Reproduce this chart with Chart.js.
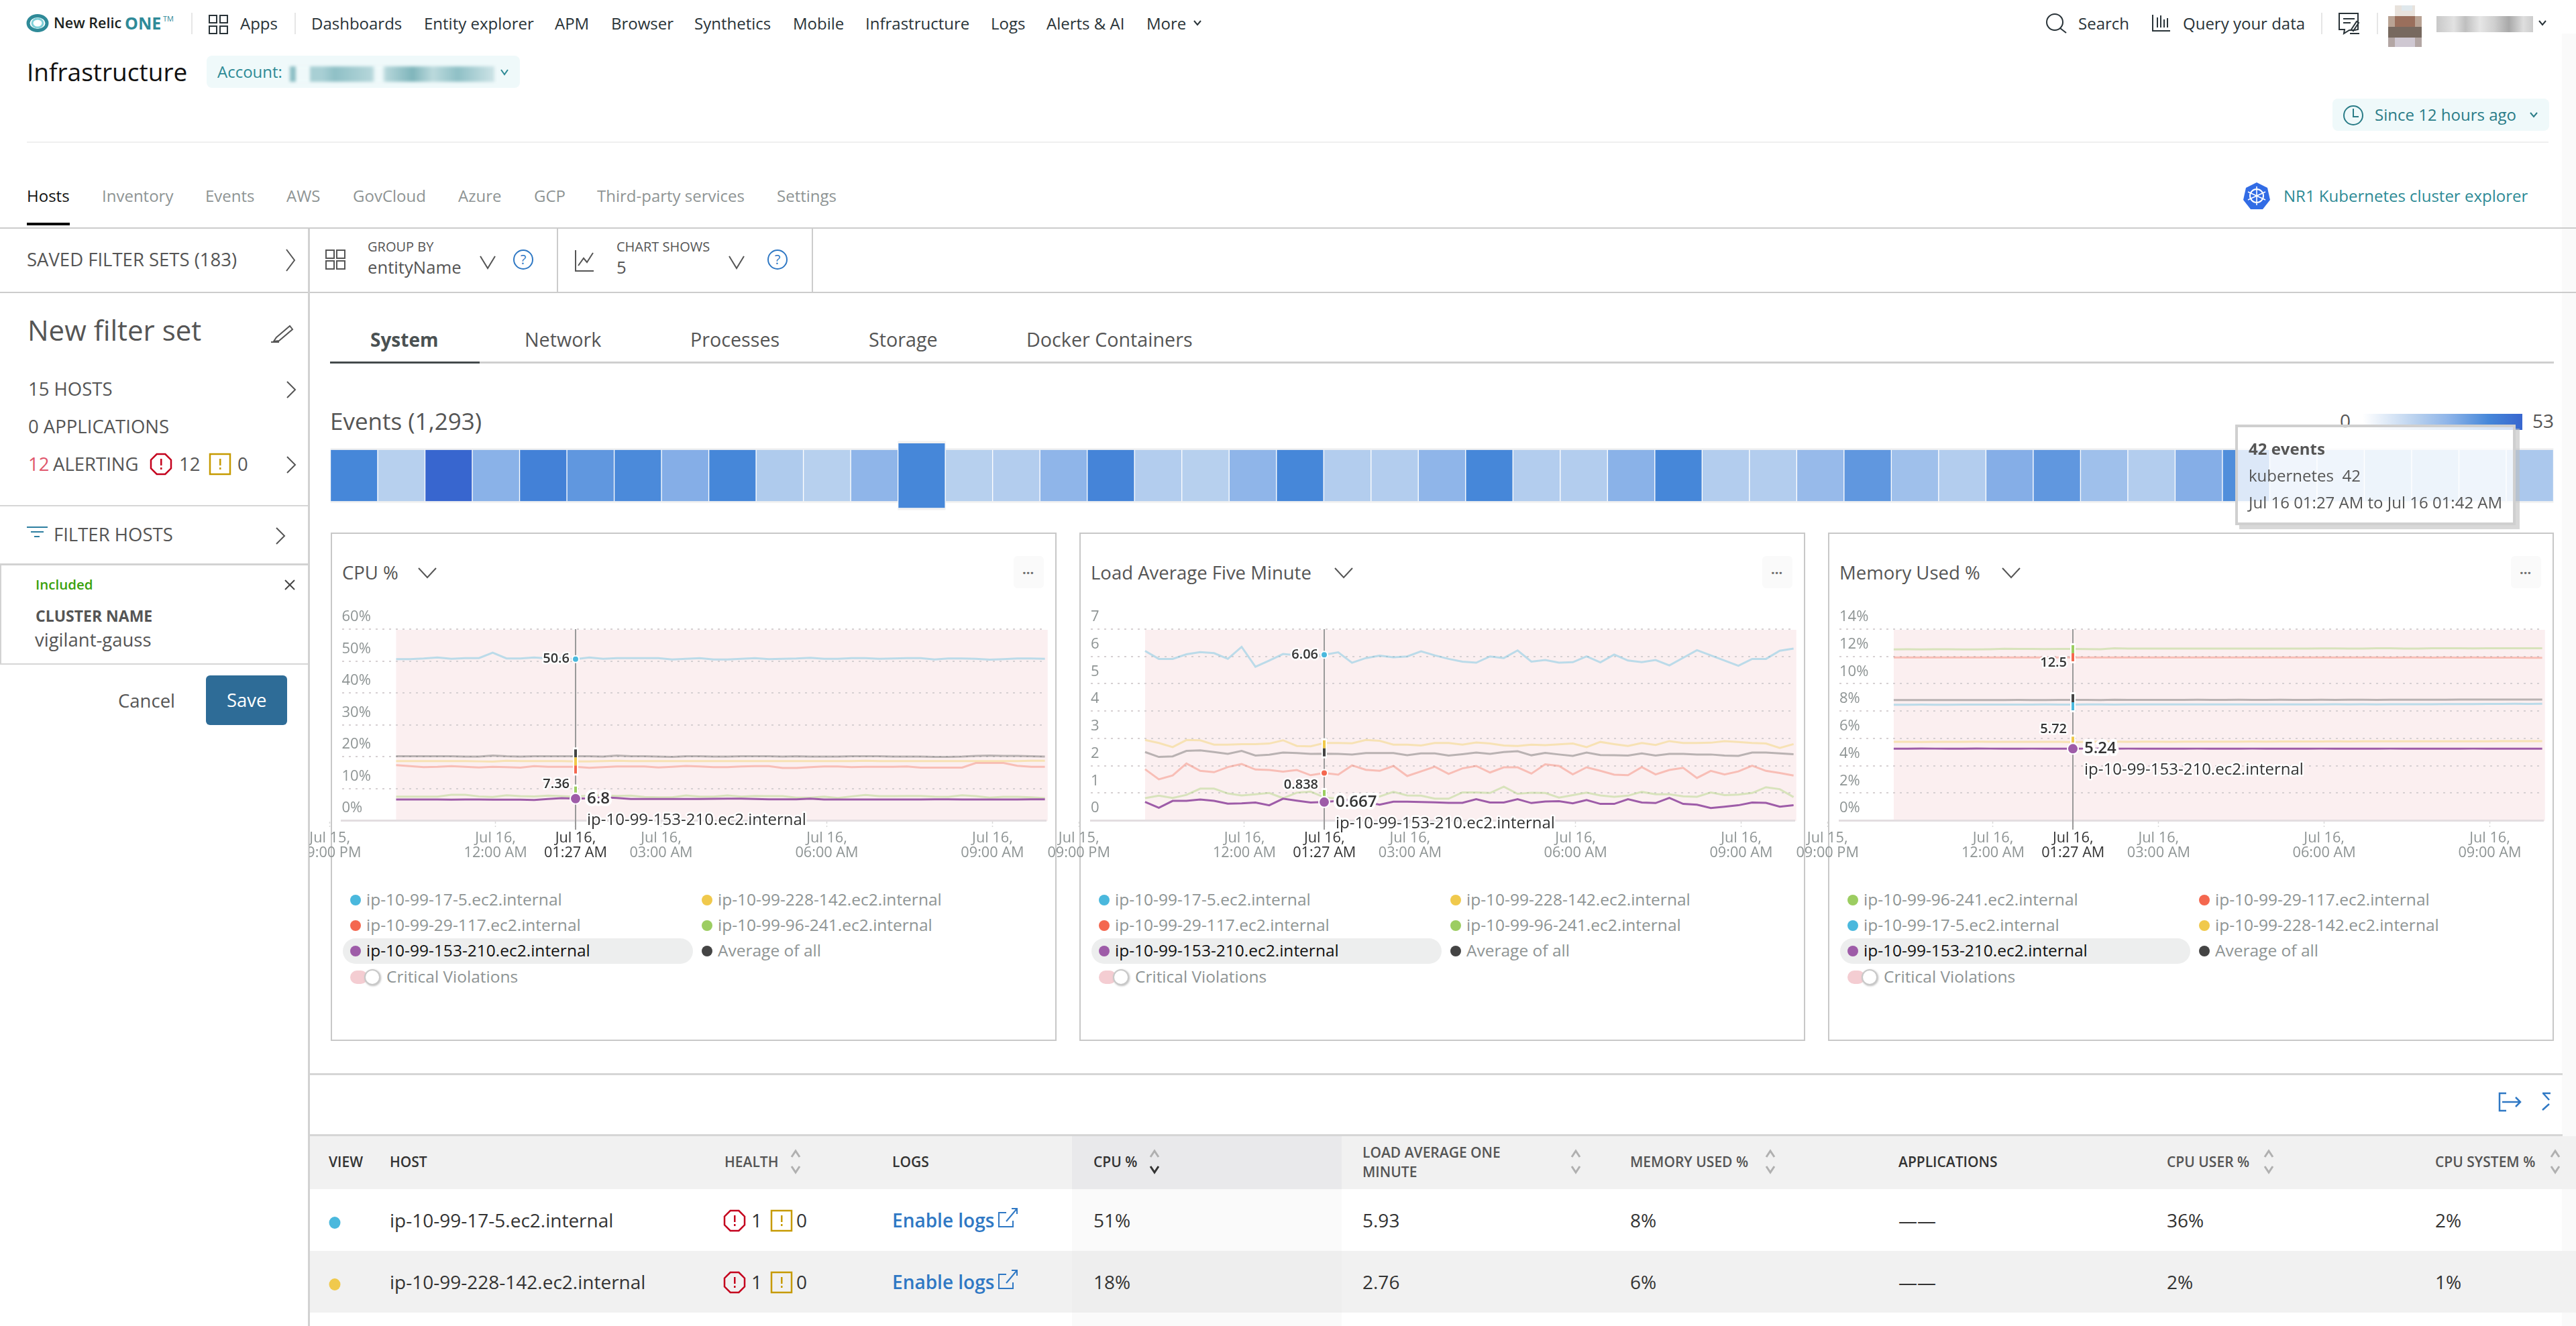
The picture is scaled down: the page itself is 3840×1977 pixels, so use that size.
<!DOCTYPE html>
<html><head><meta charset="utf-8"><title>Infrastructure</title>
<script src="https://cdn.jsdelivr.net/npm/chart.js@4"></script>
<style>
html,body{margin:0;padding:0;background:#fff;width:3840px;height:1977px;overflow:hidden;font-family:"Open Sans",sans-serif}
#page{position:relative;width:3840px;height:1977px;overflow:hidden}
.t{position:absolute;white-space:nowrap;line-height:1;transform:translateY(-50%)}
.r{position:absolute}
canvas{position:absolute}
</style></head><body><div id="page"></div>
<script>
/* ---------- data ---------- */
const sampleMinutes=[72,87,102,117,132,147,162,177,192,207,222,237,252,267,282,297,312,327,342,357,372,387,402,417,432,447,462,477,492,507,522,537,552,567,582,597,612,627,642,657,672,687,702,717,732,747,762,777];
const tickMinutes=[0,180,267,360,540,720];
const tickLabels=[["Jul 15,","09:00 PM"],["Jul 16,","12:00 AM"],["Jul 16,","01:27 AM"],["Jul 16,","03:00 AM"],["Jul 16,","06:00 AM"],["Jul 16,","09:00 AM"]];
const hoverMinute=267;
const violationWindow=[72,780];
const hostBlue="ip-10-99-17-5.ec2.internal",hostYellow="ip-10-99-228-142.ec2.internal",hostRed="ip-10-99-29-117.ec2.internal",hostGreen="ip-10-99-96-241.ec2.internal",hostPurple="ip-10-99-153-210.ec2.internal",hostAvg="Average of all";

const cpuBlue=[50.6,50.6,50.8,51.1,50.7,50.9,50.9,52.6,50.8,50.8,51.1,50.8,50.9,50.6,51.1,50.7,50.9,50.9,50.9,50.9,50.5,50.7,50.9,50.5,50.5,50.7,50.9,50.6,50.7,50.8,51.0,50.7,50.7,50.9,50.9,50.7,50.8,50.9,50.9,50.5,50.8,50.8,50.7,50.4,50.6,50.8,50.8,50.7];
const cpuAvg=[20.1,20.1,20.1,20.1,20.1,20.0,20.0,20.3,20.1,20.0,20.1,20.1,20.1,20.1,20.1,20.0,20.3,20.1,20.1,20.0,19.9,20.1,20.1,20.0,20.0,20.1,20.1,20.1,20.0,20.1,20.0,20.0,20.0,20.1,20.1,20.1,20.0,20.0,20.0,19.9,19.9,20.0,20.2,20.3,20.2,20.2,20.1,20.0];
const cpuYellow=[18.6,18.6,18.6,18.6,18.6,18.6,18.5,18.4,18.7,18.6,18.6,18.6,18.6,18.5,18.5,18.6,18.7,18.6,18.6,18.6,18.6,18.6,18.6,18.6,18.6,18.6,18.6,18.6,18.6,18.6,18.6,18.6,18.6,18.6,18.7,18.6,18.6,18.6,18.6,18.6,18.6,18.6,18.6,18.6,18.6,18.6,18.7,18.7];
const cpuRed=[17.3,17.0,16.7,16.8,17.0,16.8,16.6,16.8,16.7,16.55,17.0,16.8,16.8,16.8,16.5,16.7,16.9,16.9,16.9,16.6,16.8,17.05,16.9,16.7,16.7,16.9,17.0,17.0,16.4,16.4,16.7,16.9,16.9,16.7,16.8,16.8,16.8,16.9,16.55,16.55,16.55,16.55,18.0,18.0,18.0,17.1,16.8,16.8];
const cpuGreen=[7.44,7.44,7.44,7.44,8.0,8.0,7.5,7.3,7.86,7.58,7.5,7.72,7.58,7.36,7.79,7.86,7.65,7.72,7.3,7.23,7.23,7.79,7.44,7.44,7.79,7.44,7.65,7.58,7.58,7.09,7.09,7.44,7.02,7.5,7.93,7.58,7.58,7.65,7.65,7.44,7.37,7.86,7.58,7.09,7.37,7.37,7.23,6.95];
const cpuPurple=[6.53,6.53,6.53,6.53,6.46,6.53,6.53,6.46,6.46,6.46,6.39,6.67,6.95,6.8,6.9,7.2,7.0,6.67,6.67,6.67,6.67,6.67,6.67,6.74,6.8,6.8,6.67,6.6,6.6,6.6,6.8,6.53,6.53,6.53,6.53,6.53,6.53,6.53,6.53,6.6,6.6,6.53,6.53,6.53,6.53,6.53,6.6,6.6];

const loadBlue=[6.20,5.91,5.91,6.08,6.16,6.12,5.91,6.35,5.62,5.85,6.09,6.04,6.05,6.06,6.15,5.77,5.94,6.03,5.97,6.0,6.19,6.04,5.91,5.81,5.77,6.0,5.94,6.22,5.81,5.87,5.77,5.79,6.0,5.78,6.07,5.85,5.79,5.87,5.67,5.95,6.23,6.04,5.85,5.66,5.91,5.91,6.21,6.29];
const loadYellow=[2.94,2.83,2.68,2.94,2.93,2.77,2.77,2.79,2.79,2.81,2.93,2.72,2.71,2.83,2.83,2.82,2.94,2.91,2.77,2.77,2.74,2.83,2.83,2.77,2.85,2.81,2.74,2.72,2.77,2.75,2.78,2.81,2.68,2.87,2.79,2.72,2.83,2.76,2.90,2.83,2.83,2.84,2.90,2.87,2.83,2.81,2.65,2.79];
const loadAvg=[2.50,2.32,2.34,2.54,2.56,2.50,2.43,2.54,2.37,2.40,2.48,2.46,2.43,2.44,2.43,2.41,2.46,2.46,2.46,2.38,2.45,2.45,2.37,2.42,2.48,2.43,2.50,2.53,2.38,2.47,2.41,2.36,2.48,2.39,2.38,2.37,2.45,2.37,2.43,2.43,2.41,2.41,2.37,2.36,2.48,2.48,2.45,2.42];
const loadRed=[1.87,1.50,1.64,2.08,1.81,1.76,1.95,2.06,1.86,1.84,1.78,1.84,1.65,1.73,1.67,2.01,1.85,1.81,1.99,1.62,1.79,1.96,1.70,1.90,1.99,1.75,1.94,1.94,1.71,2.05,1.99,1.68,1.94,1.81,1.67,1.65,1.95,1.68,1.84,1.92,1.55,1.81,1.68,1.79,2.0,1.81,1.73,1.64];
const loadGreen=[0.81,0.90,0.82,0.93,1.16,1.16,0.98,0.91,0.95,1.0,0.81,1.01,1.05,0.838,0.79,0.75,0.85,0.87,1.04,0.91,0.90,0.79,0.79,1.02,1.02,1.0,1.23,0.97,1.01,1.0,0.83,0.92,1.01,0.91,0.86,0.90,1.04,0.95,0.95,0.88,0.86,1.02,0.92,0.94,1.0,1.21,1.14,0.85];
const loadPurple=[0.67,0.46,0.71,0.71,0.76,0.71,0.61,0.62,0.65,0.55,0.79,0.72,0.65,0.667,0.71,0.75,0.67,0.57,0.68,0.68,0.67,0.66,0.64,0.64,0.77,0.65,0.65,0.77,0.63,0.69,0.70,0.62,0.74,0.60,0.60,0.77,0.65,0.63,0.82,0.60,0.57,0.45,0.50,0.55,0.65,0.64,0.50,0.55];

const memGreen=[12.52,12.53,12.52,12.53,12.53,12.52,12.52,12.53,12.56,12.55,12.55,12.54,12.55,12.55,12.54,12.53,12.6,12.58,12.57,12.57,12.57,12.57,12.58,12.57,12.57,12.57,12.57,12.57,12.57,12.57,12.58,12.59,12.59,12.58,12.58,12.6,12.6,12.58,12.58,12.6,12.6,12.6,12.59,12.6,12.6,12.6,12.6,12.6];
const memRed=[11.93,11.92,11.93,11.93,11.92,11.93,11.92,11.93,11.93,11.92,11.92,11.93,11.92,11.92,11.93,11.93,11.92,11.93,11.93,11.92,11.93,11.93,11.92,11.93,11.93,11.92,11.92,11.93,11.92,11.92,11.93,11.92,11.92,11.93,11.92,11.92,11.91,11.92,11.92,11.91,11.92,11.91,11.92,11.91,11.91,11.91,11.9,11.9];
const memAvg=[8.80,8.80,8.81,8.80,8.81,8.81,8.80,8.81,8.81,8.82,8.81,8.81,8.82,8.82,8.82,8.81,8.83,8.82,8.82,8.82,8.82,8.82,8.83,8.82,8.82,8.83,8.82,8.82,8.83,8.82,8.82,8.83,8.82,8.83,8.83,8.82,8.83,8.83,8.83,8.83,8.83,8.84,8.84,8.84,8.84,8.84,8.84,8.84];
const memBlue=[8.46,8.46,8.47,8.46,8.46,8.47,8.47,8.47,8.47,8.47,8.47,8.48,8.47,8.47,8.48,8.48,8.47,8.48,8.48,8.48,8.48,8.48,8.48,8.48,8.48,8.48,8.49,8.48,8.49,8.48,8.49,8.49,8.5,8.49,8.5,8.49,8.5,8.5,8.5,8.5,8.51,8.51,8.51,8.52,8.52,8.53,8.52,8.53];
const memYellow=[5.75,5.75,5.74,5.75,5.75,5.75,5.76,5.75,5.75,5.75,5.75,5.75,5.75,5.72,5.75,5.76,5.76,5.75,5.76,5.76,5.75,5.76,5.76,5.76,5.76,5.76,5.77,5.76,5.77,5.77,5.77,5.77,5.78,5.77,5.78,5.78,5.78,5.78,5.79,5.78,5.79,5.79,5.79,5.79,5.8,5.8,5.8,5.8];
const memPurple=[5.25,5.25,5.26,5.25,5.25,5.25,5.26,5.25,5.25,5.24,5.25,5.25,5.24,5.24,5.25,5.25,5.24,5.25,5.25,5.25,5.25,5.24,5.25,5.25,5.25,5.24,5.25,5.25,5.25,5.25,5.24,5.25,5.25,5.25,5.25,5.24,5.25,5.25,5.25,5.25,5.25,5.24,5.25,5.25,5.25,5.25,5.25,5.25];

const eventCounts=[42,18,53,29,44,37,41,30,42,20,18,28,42,18,19,28,43,19,18,28,42,19,19,28,42,19,19,29,42,19,19,26,37,24,19,30,37,24,19,30,40,19,20,22,22,20,21];
const eventCells=["22:27","22:42","22:57","23:12","23:27","23:42","23:57","00:12","00:27","00:42","00:57","01:12","01:27","01:42","01:57","02:12","02:27","02:42","02:57","03:12","03:27","03:42","03:57","04:12","04:27","04:42","04:57","05:12","05:27","05:42","05:57","06:12","06:27","06:42","06:57","07:12","07:27","07:42","07:57","08:12","08:27","08:42","08:57","09:12","09:27","09:42","09:57"];
const selectedEventCell=12;

const navItems=[["Dashboards",464],["Entity explorer",632],["APM",827],["Browser",911],["Synthetics",1035],["Mobile",1182],["Infrastructure",1290],["Logs",1477],["Alerts & AI",1560],["More",1709]];
const tabItems=[["Hosts",40],["Inventory",152],["Events",306],["AWS",427],["GovCloud",526],["Azure",683],["GCP",796],["Third-party services",890],["Settings",1158]];
const subTabs=[["System",552],["Network",782],["Processes",1029],["Storage",1295],["Docker Containers",1530]];

/* ---------- colours ---------- */
const C={blue:"#4ab8dd",yellow:"#f0c94c",red:"#f4674f",green:"#9ccd61",purple:"#9e5ca8",avg:"#444444"};
const alpha=(hex,a)=>hex+Math.round(a*255).toString(16).padStart(2,"0");
const FONT='"Open Sans"';

/* ---------- DOM helpers ---------- */
const page=document.getElementById("page");
function R(x,y,w,h,bg,extra){const d=document.createElement("div");d.className="r";d.style.cssText=`left:${x}px;top:${y}px;width:${w}px;height:${h}px;background:${bg};${extra||""}`;page.appendChild(d);return d;}
function T(x,y,s,size,color,weight,extra){const d=document.createElement("div");d.className="t";d.textContent=s;d.style.cssText=`left:${x}px;top:${y-1.5}px;font-size:${size}px;color:${color};font-weight:${weight||400};${extra||""}`;page.appendChild(d);return d;}
let svgParts=[];
const chev=(x,y,w,h,c,sw)=>`<polyline points="${x},${y} ${x+w/2},${y+h} ${x+w},${y}" fill="none" stroke="${c}" stroke-width="${sw||2}"/>`;
const chevR=(x,y,w,h,c)=>`<polyline points="${x},${y} ${x+w},${y+h/2} ${x},${y+h}" fill="none" stroke="${c}" stroke-width="2"/>`;
const gridIcon=(x,y,s,g,c)=>`<g fill="none" stroke="${c}" stroke-width="2"><rect x="${x}" y="${y}" width="${s}" height="${s}"/><rect x="${x+s+g}" y="${y}" width="${s}" height="${s}"/><rect x="${x}" y="${y+s+g}" width="${s}" height="${s}"/><rect x="${x+s+g}" y="${y+s+g}" width="${s}" height="${s}"/></g>`;
const help=(cx,cy)=>`<circle cx="${cx}" cy="${cy}" r="14" fill="none" stroke="#2f78c4" stroke-width="2"/><text x="${cx}" y="${cy+7}" font-size="20" text-anchor="middle" fill="#2f78c4" font-family="Open Sans">?</text>`;
const octagon=(x,y,s)=>{const a=s*0.29,b=s-a;return `<polygon points="${x+a},${y} ${x+b},${y} ${x+s},${y+a} ${x+s},${y+b} ${x+b},${y+s} ${x+a},${y+s} ${x},${y+b} ${x},${y+a}" fill="none" stroke="#c4001d" stroke-width="2.5"/><rect x="${x+s/2-1}" y="${y+7}" width="2.5" height="10" fill="#c4001d"/><rect x="${x+s/2-1}" y="${y+20}" width="2.5" height="3" fill="#c4001d"/>`;};
const warnBox=(x,y,s)=>`<rect x="${x}" y="${y}" width="${s}" height="${s}" fill="none" stroke="#c69a00" stroke-width="2.5"/><rect x="${x+s/2-1}" y="${y+7}" width="2.5" height="10" fill="#c69a00"/><rect x="${x+s/2-1}" y="${y+20}" width="2.5" height="3" fill="#c69a00"/>`;
const sortIcon=(cx,cy,activeDown)=>`<polyline points="${cx-6},${cy-8} ${cx},${cy-17} ${cx+6},${cy-8}" fill="none" stroke="#b0b0b0" stroke-width="3"/><polyline points="${cx-6},${cy+6} ${cx},${cy+15} ${cx+6},${cy+6}" fill="none" stroke="${activeDown?"#333":"#b0b0b0"}" stroke-width="3"/>`;

/* ---------- header ---------- */
svgParts.push(`<ellipse cx="56" cy="34.5" rx="14" ry="11" fill="#fff" stroke="#2f8a98" stroke-width="5"/><ellipse cx="56" cy="34.5" rx="8" ry="6.5" fill="#fff" stroke="#7fd0d8" stroke-width="3"/>`);
T(80,35,"New Relic",21.5,"#1b1f20",600);
T(186,35,"ONE",25,"#2f8a98",700);T(243,28,"TM",11,"#2f8a98",400);
R(285,19,2,32,"#e6e6e6");R(439,19,2,32,"#e6e6e6");
svgParts.push(gridIcon(312,23,11,5,"#293338"));
T(358,36,"Apps",24,"#293338");
navItems.forEach(n=>T(n[1],36,n[0],24,"#293338"));
svgParts.push(chev(1780,31,10,6,"#293338"));
svgParts.push(`<circle cx="3063" cy="33" r="12" fill="none" stroke="#293338" stroke-width="2"/><line x1="3071" y1="42" x2="3080" y2="49" stroke="#293338" stroke-width="2"/>`);
T(3098,36,"Search",24,"#293338");
svgParts.push(`<g stroke="#293338" stroke-width="2" fill="none"><polyline points="3209,22 3209,46 3235,46"/><line x1="3216" y1="26" x2="3216" y2="41"/><line x1="3221" y1="23" x2="3221" y2="41"/><line x1="3226" y1="29" x2="3226" y2="41"/><line x1="3231" y1="27" x2="3231" y2="41"/></g>`);
T(3254,36,"Query your data",24,"#293338");
R(3460,19,2,32,"#e6e6e6");R(3543,19,2,32,"#e6e6e6");
svgParts.push(`<g stroke="#293338" stroke-width="2" fill="none"><path d="M3487 20h28v24l-5 1-8 0-8 5 1-6h-8z"/><line x1="3493" y1="28" x2="3510" y2="28"/><line x1="3493" y1="34" x2="3504" y2="34"/><line x1="3503" y1="50" x2="3517" y2="50"/><path d="M3505 44l8-12 3 2-8 12z"/></g>`);
/* blurred avatar and user name, as in the redacted reference */
[["#e8e2dc",3570,8,30,16],["#dfe8ec",3580,8,16,8],["#b9a394",3560,24,50,16],["#9a6f5c",3570,24,30,16],["#77695f",3560,40,50,16],["#b3a6a4",3560,56,50,14],["#cfc8d2",3570,56,30,14]].forEach(a=>R(a[1],a[2],a[3],a[4],a[0]));
R(3632,24,144,24,"linear-gradient(90deg,#c8c8c8,#e2e2e2 18%,#bfbfbf 30%,#e6e6e6 45%,#cfcfcf 60%,#a9a9a9 75%,#dedede 90%,#cccccc)");
svgParts.push(chev(3785,31,10,6,"#293338"));
T(40,107,"Infrastructure",37,"#111");
R(308,83,467,48,"#eff9fa","border-radius:8px");
T(324,108,"Account:",24,"#2d8a95");
R(432,99,305,23,"linear-gradient(90deg,#8fc0c6 0 3%,#eff9fa 3% 10%,#a8cfd4 10% 16%,#8fc0c6 22%,#b5d6da 40%,#eff9fa 42% 45%,#b5d6da 47%,#7fb5bb 60%,#bcdadd 70%,#8fc0c6 82%,#cde3e6 100%)","filter:blur(2px)");
svgParts.push(chev(747,104,10,7,"#2d8a95"));
R(3477,147,323,48,"#eff9fa","border-radius:8px");
svgParts.push(`<circle cx="3508" cy="172" r="14" fill="none" stroke="#2a7c87" stroke-width="2"/><polyline points="3508,162 3508,174 3516,174" fill="none" stroke="#2a7c87" stroke-width="2"/>`);
T(3540,172,"Since 12 hours ago",24,"#2a7c87");
svgParts.push(chev(3772,168,10,6,"#2a7c87"));
R(40,211,3759,2,"#efefef");
R(3819,50,21,1927,"#fafafa");

/* ---------- tabs and toolbar ---------- */
tabItems.forEach((n,i)=>T(n[1],293,n[0],24,i===0?"#111":"#8e9494"));
R(40,332,64,4,"#000");
R(0,339,3840,2,"#cccccc");R(0,435,3840,2,"#cccccc");
R(459,341,3,1636,"#d2d2d2");R(830,341,2,94,"#cccccc");R(1210,341,2,94,"#cccccc");
svgParts.push(`<polygon points="3364,272 3380,280 3384,298 3373,312 3355,312 3344,298 3348,280" fill="#326ce5"/><circle cx="3364" cy="292" r="10" fill="none" stroke="#fff" stroke-width="2"/><g stroke="#fff" stroke-width="1.6"><line x1="3364" y1="278" x2="3364" y2="306"/><line x1="3351" y1="286" x2="3377" y2="298"/><line x1="3351" y1="298" x2="3377" y2="286"/></g>`);
T(3404,293,"NR1 Kubernetes cluster explorer",24,"#2d8a95");
T(40,388,"SAVED FILTER SETS (183)",27.5,"#555");
svgParts.push(chevR(427,372,12,32,"#555"));
svgParts.push(gridIcon(486,373,12,4,"#555"));
T(548,369,"GROUP BY",20,"#555");T(548,400,"entityName",25.7,"#555");
svgParts.push(chev(716,382,22,18,"#555"),help(780,387));
svgParts.push(`<g fill="none" stroke="#555" stroke-width="2"><polyline points="858,373 858,404 885,404"/><polyline points="862,396 870,385 875,391 884,377"/></g>`);
T(919,369,"CHART SHOWS",20,"#555");T(919,400,"5",25.7,"#555");
svgParts.push(chev(1087,382,22,18,"#555"),help(1159,387));

/* ---------- left panel ---------- */
T(41,493,"New filter set",42,"#555");
svgParts.push(`<g fill="none" stroke="#555" stroke-width="2"><path d="M412 503l20-17 4 5-20 17-8 1z"/><line x1="404" y1="510" x2="416" y2="510"/></g>`);
T(42,581,"15 HOSTS",27.5,"#555");svgParts.push(chevR(428,569,12,24,"#555"));
T(42,637,"0 APPLICATIONS",27.5,"#555");
T(42,693,"12",27.5,"#e0566b");T(79,693,"ALERTING",27.5,"#555");
svgParts.push(octagon(225,677,30));T(267,693,"12",27.5,"#555");
svgParts.push(warnBox(313,677,30));T(354,693,"0",27.5,"#555");
svgParts.push(chevR(428,681,12,24,"#555"));
R(0,753,459,2,"#d6d6d6");
svgParts.push(`<g stroke="#2d7ea0" stroke-width="2"><line x1="40" y1="786" x2="71" y2="786"/><line x1="46" y1="793" x2="65" y2="793"/><line x1="51" y1="800" x2="59" y2="800"/></g>`);
T(80,798,"FILTER HOSTS",27.5,"#555");svgParts.push(chevR(412,787,12,24,"#555"));
R(0,840,459,3,"#d2d2d2");R(0,843,2,147,"#d2d2d2");R(0,989,459,2,"#d6d6d6");
T(53,872,"Included",20.5,"#3ba10d",600);
svgParts.push(`<g stroke="#444" stroke-width="2"><line x1="425" y1="865" x2="439" y2="879"/><line x1="439" y1="865" x2="425" y2="879"/></g>`);
T(53,919,"CLUSTER NAME",23,"#555",700);T(52,955,"vigilant-gauss",27.5,"#555");
T(176,1046,"Cancel",27.5,"#555");
R(307,1007,121,74,"#2e6c97","border-radius:6px");
T(338,1045,"Save",27.5,"#fff",400);

/* ---------- sub tabs ---------- */
subTabs.forEach((n,i)=>T(n[1],507,n[0],i===0?28:28.7,i===0?"#4a5152":"#555",i===0?700:400));
R(492,539,3315,3,"#cfcfcf");R(492,539,223,3,"#444a4c");

/* ---------- event strip chrome ---------- */
T(492,628,"Events (1,293)",35,"#555");
T(3488,628,"0",28,"#555");
R(3522,617,238,24,"linear-gradient(90deg,#fff,#b7d0ee 34%,#8fb5e9 53%,#4687d9 79%,#3866cf)");
T(3775,628,"53",28,"#555");

/* ---------- cards ---------- */
const cards=[
 {x:493,title:"CPU %",chevX:624,
  legend:[[C.blue,hostBlue],[C.yellow,hostYellow],[C.red,hostRed],[C.green,hostGreen],[C.purple,hostPurple],[C.avg,hostAvg]]},
 {x:1609,title:"Load Average Five Minute",chevX:1990,
  legend:[[C.blue,hostBlue],[C.yellow,hostYellow],[C.red,hostRed],[C.green,hostGreen],[C.purple,hostPurple],[C.avg,hostAvg]]},
 {x:2725,title:"Memory Used %",chevX:2985,
  legend:[[C.green,hostGreen],[C.red,hostRed],[C.blue,hostBlue],[C.yellow,hostYellow],[C.purple,hostPurple],[C.avg,hostAvg]]}];
cards.forEach(c=>{
  R(c.x,794,1082,758,"transparent","box-sizing:border-box;border:2px solid #c8c8c8");
  T(c.x+17,855,c.title,27.5,"#555");
  svgParts.push(chev(c.chevX,847,26,14,"#555"));
  R(c.x+1018,829,45,48,"#fafafa","border-radius:6px");
  T(c.x+1031,850,"...",20,"#6b6b6b",700);
  const rows=[1342,1380,1418];
  R(c.x+18,1399,522,38,"#edeeee","border-radius:19px");
  c.legend.forEach((l,i)=>{
    const col=i%2,row=Math.floor(i/2),dx=col?561:37,tx=col?577:53;
    svgParts.push(`<circle cx="${c.x+dx}" cy="${rows[row]}" r="8" fill="${l[0]}"/>`);
    T(c.x+tx,rows[row],l[1],24.5,i===4?"#111":"#8e9494");
  });
  R(c.x+29,1447,26,20,"#f4cdd2","border-radius:10px");
  R(c.x+50,1445,24,24,"#fff","border-radius:50%;box-sizing:border-box;border:2px solid #c9c9c9;box-shadow:1px 1px 3px #bbb");
  T(c.x+83,1457,"Critical Violations",24.5,"#8e9494");
});

/* ---------- table ---------- */
R(462,1600,3358,3,"#d6d6d6");R(462,1691,3358,3,"#d6d6d6");
svgParts.push(`<g fill="none" stroke="#2f78c4" stroke-width="2.5"><polyline points="3736,1630 3726,1630 3726,1656 3736,1656"/><line x1="3730" y1="1643" x2="3757" y2="1643"/><polyline points="3750,1636 3757,1643 3750,1650"/><polyline points="3790,1630 3802,1630"/><line x1="3791" y1="1630" x2="3800" y2="1640"/><line x1="3790" y1="1655" x2="3800" y2="1646"/></g>`);
R(462,1694,3378,79,"#f1f1f1");R(462,1865,3378,92,"#f1f1f1");
R(1598,1694,402,79,"#e9e9eb");R(1598,1773,402,92,"#fafafa");R(1598,1865,402,92,"#eeeeee");R(1598,1957,402,20,"#fafafa");
const headers=[["VIEW",490],["HOST",581],["HEALTH",1080],["LOGS",1330],["CPU %",1630],["MEMORY USED %",2430],["APPLICATIONS",2830],["CPU USER %",3230],["CPU SYSTEM %",3630]];
headers.forEach(h=>T(h[1],1733,h[0],21,["VIEW","HOST","LOGS","APPLICATIONS"].includes(h[0])||h[0]==="CPU %"?"#333":"#555",600));
T(2031,1719,"LOAD AVERAGE ONE",21,"#555",600);T(2031,1748,"MINUTE",21,"#555",600);
[1186,2349,2639,3382,3809].forEach(x=>svgParts.push(sortIcon(x,1733)));
svgParts.push(sortIcon(1721,1733,true));
const tableRows=[[C.blue,hostBlue,"51%","5.93","8%","36%","2%",1820],[C.yellow,hostYellow,"18%","2.76","6%","2%","1%",1912]];
tableRows.forEach(r=>{const y=r[7];
  svgParts.push(`<ellipse cx="499" cy="${y+3}" rx="8.5" ry="9" fill="${r[0]}"/>`);
  T(581,y,r[1],28,"#333");
  svgParts.push(octagon(1080,y-15,30));T(1120,y,"1",28,"#333");
  svgParts.push(warnBox(1150,y-15,30));T(1187,y,"0",28,"#333");
  T(1330,y,"Enable logs",28,"#2f78c4",600);
  svgParts.push(`<g fill="none" stroke="#2f78c4" stroke-width="2"><polyline points="1500,${y-12} 1489,${y-12} 1489,${y+9} 1510,${y+9} 1510,${y}"/><line x1="1500" y1="${y+1}" x2="1516" y2="${y-18}"/><polyline points="1508,${y-18} 1516,${y-18} 1516,${y-10}"/></g>`);
  T(1630,y,r[2],28,"#333");T(2031,y,r[3],28,"#333");T(2430,y,r[4],28,"#333");
  T(2830,y,"——",28,"#333");T(3230,y,r[5],28,"#333");T(3630,y,r[6],28,"#333");
});

const svgEl=document.createElement("div");
svgEl.style.cssText="position:absolute;left:0;top:0;width:3840px;height:1977px;pointer-events:none";
svgEl.innerHTML=`<svg xmlns="http://www.w3.org/2000/svg" width="3840" height="1977">${svgParts.join("")}</svg>`;
page.appendChild(svgEl);

/* ---------- event strip chart ---------- */
const stops=[[0,[255,255,255]],[18,[183,208,238]],[28,[143,181,233]],[42,[70,135,217]],[53,[56,102,207]]];
function heat(v){for(let i=1;i<stops.length;i++){if(v<=stops[i][0]){const a=stops[i-1],b=stops[i],t=(v-a[0])/(b[0]-a[0]);return `rgb(${a[1].map((c,k)=>Math.round(c+(b[1][k]-c)*t)).join(",")})`;}}return "rgb(56,102,207)";}
function mkCanvas(l,t,w,h,z){const c=document.createElement("canvas");c.width=w;c.height=h;c.style.cssText=`left:${l}px;top:${t}px;width:${w}px;height:${h}px;z-index:${z||1}`;page.appendChild(c);return c;}
new Chart(mkCanvas(490,654,3318,110),{
  type:"bar",
  data:{labels:eventCells,datasets:[
    {data:eventCounts.map((v,i)=>i===selectedEventCell?[-0.13,1.13]:[0,1]),backgroundColor:eventCounts.map(heat),borderColor:"#ffffff",borderWidth:{left:1,right:1,top:0,bottom:0},borderSkipped:false,barPercentage:1,categoryPercentage:1,order:1,grouped:false},
    {data:eventCounts.map((v,i)=>i===selectedEventCell?[-0.17,1.17]:[-0.03,1.03]),backgroundColor:"#f1f1f1",borderWidth:0,barPercentage:1,categoryPercentage:1,order:2,grouped:false}
  ]},
  options:{responsive:false,animation:false,devicePixelRatio:1,layout:{padding:{left:2.5,right:1.5,top:0,bottom:0}},
    plugins:{legend:{display:false},tooltip:{enabled:false}},
    scales:{x:{display:false},y:{display:false,min:-0.22,max:1.22}}}
});

/* tooltip */
R(3332,633,418,150,"rgba(255,255,255,.8)","box-sizing:border-box;border:4px solid #cfcfcf;box-shadow:6px 6px 0 rgba(190,190,190,.6);z-index:5");
[[670,"42 events",700],[710,"kubernetes  42",400],[750,"Jul 16 01:27 AM to Jul 16 01:42 AM",400]].forEach(a=>{T(3352,a[0],a[1],24,"#555",a[2],"z-index:6;white-space:pre");});

/* ---------- line charts ---------- */
function hoverPlugin(cfg){return {id:"hover"+cfg.key,
  beforeDraw(ch){const {ctx,chartArea:a,scales:{x}}=ch;ctx.save();ctx.fillStyle="#fbeff0";
    const l=x.getPixelForValue(violationWindow[0]),r=x.getPixelForValue(violationWindow[1]);
    ctx.fillRect(l,a.top+1,r-l,a.bottom-a.top);ctx.restore();},
  afterDatasetsDraw(ch){
    const {ctx,chartArea:a,scales:{x,y}}=ch,i=sampleMinutes.indexOf(hoverMinute),px=Math.round(x.getPixelForValue(hoverMinute));
    ctx.save();
    ctx.strokeStyle="#9a9a9a";ctx.lineWidth=2;ctx.beginPath();ctx.moveTo(px,a.top);ctx.lineTo(px,a.bottom+14);ctx.stroke();
    const all=cfg.series.map(s=>({y:y.getPixelForValue(s.data[i]),color:s.color,hi:s.highlight,s}));
    const hi=all.find(m=>m.hi),rest=all.filter(m=>!m.hi).sort((p,q)=>p.y-q.y);
    const h=12,groups=[];
    rest.forEach(m=>{const g=groups[groups.length-1];if(g&&m.y-g[g.length-1].y<=16)g.push(m);else groups.push([m]);});
    const R0=7;
    groups.forEach(g=>{
      const single=g.length===1,near=single&&Math.abs(g[0].y-hi.y)<h/2+R0+4;
      if(single&&!near){const m=g[0];
        ctx.fillStyle="#fff";ctx.beginPath();ctx.arc(px,m.y,6,0,7);ctx.fill();
        ctx.fillStyle=m.color;ctx.beginPath();ctx.arc(px,m.y,4,0,7);ctx.fill();return;}
      let top,hh=h;
      if(near){hh=9;top=hi.y-R0-2-hh;}
      else{const mean=g.reduce((s,m)=>s+m.y,0)/g.length;top=mean-g.length*h/2;}
      ctx.fillStyle="#fff";ctx.fillRect(px-4,top-3,8,hh*g.length+6);
      g.forEach((m,k)=>{ctx.fillStyle=m.color;ctx.fillRect(px-2,top+k*hh,4,hh);});
    });
    ctx.fillStyle="#fff";ctx.beginPath();ctx.arc(px,hi.y,R0+2,0,7);ctx.fill();
    ctx.fillStyle=hi.color;ctx.beginPath();ctx.arc(px,hi.y,R0,0,7);ctx.fill();
    const halo=(txt,tx,ty,al,font,lw)=>{ctx.font=font;ctx.textAlign=al;ctx.textBaseline="middle";ctx.lineJoin="round";ctx.strokeStyle="#fff";ctx.lineWidth=lw;ctx.strokeText(txt,tx,ty);ctx.fillStyle="#333";ctx.fillText(txt,tx,ty);};
    cfg.hoverLabels.forEach(l=>{const m=all[l.s];halo(l.text,px-9,m.y+l.dy,"right",`600 20px ${FONT}`,5);});
    halo(cfg.hiLabel,px+17,hi.y,"left",`600 24px ${FONT}`,8);
    halo(hostPurple,px+17,hi.y+32,"left",`400 24px ${FONT}`,5);
    ctx.restore();
  }};}
function lineChart(cfg){
  const W=cfg.right+30-cfg.canvasLeft,H=400;
  return new Chart(mkCanvas(cfg.canvasLeft,880,W,H,2),{
    type:"line",
    data:{datasets:cfg.series.map(s=>({label:s.name,data:s.data.map((v,k)=>({x:sampleMinutes[k],y:v})),borderColor:s.highlight?s.color:alpha(s.color,.36),borderWidth:3,pointRadius:0,tension:0,fill:false,order:s.highlight?0:1}))},
    options:{responsive:false,animation:false,devicePixelRatio:1,
      layout:{autoPadding:false,padding:{left:cfg.left-cfg.canvasLeft,right:W-(cfg.right-cfg.canvasLeft),top:58,bottom:0}},
      plugins:{legend:{display:false},tooltip:{enabled:false}},
      scales:{
        x:{type:"linear",min:13,max:778,
          afterBuildTicks:s=>{s.ticks=tickMinutes.map(v=>({value:v}));},
          afterFit:s=>{s.height=57;s.paddingLeft=0;s.paddingRight=0;},
          border:{color:"#e3dde0",width:3},
          grid:{drawOnChartArea:false,drawTicks:true,tickLength:10,color:"#d9d9d9",tickBorderDash:[3,3],tickWidth:1.5},
          ticks:{autoSkip:false,maxRotation:0,minRotation:0,padding:6,
            color:c=>c.tick&&c.tick.value===hoverMinute?"#333":"#8e9494",
            font:{family:FONT,size:21.7,lineHeight:1.02},
            callback:v=>{const k=tickMinutes.indexOf(v);return k<0?"":tickLabels[k];}}},
        y:{min:0,max:cfg.max,
          border:{display:false,dash:[3,7]},
          grid:{color:"#d6d0d2",lineWidth:2,drawTicks:false},
          ticks:{mirror:true,padding:0,labelOffset:-18,stepSize:cfg.step,color:"#8e9494",font:{family:FONT,size:22},
            callback:v=>v+cfg.suffix}}
      }},
    plugins:[hoverPlugin(cfg)]
  });
}
lineChart({key:"cpu",canvasLeft:461,left:509.5,right:1559,max:60,step:10,suffix:"%",hiLabel:"6.8",
  series:[{name:hostBlue,color:C.blue,data:cpuBlue},{name:hostYellow,color:C.yellow,data:cpuYellow},{name:hostRed,color:C.red,data:cpuRed},{name:hostGreen,color:C.green,data:cpuGreen},{name:hostAvg,color:C.avg,data:cpuAvg},{name:hostPurple,color:C.purple,data:cpuPurple,highlight:true}],
  hoverLabels:[{s:0,text:"50.6",dy:0},{s:3,text:"7.36",dy:-19}]});
lineChart({key:"load",canvasLeft:1560,left:1626,right:2675,max:7,step:1,suffix:"",hiLabel:"0.667",
  series:[{name:hostBlue,color:C.blue,data:loadBlue},{name:hostYellow,color:C.yellow,data:loadYellow},{name:hostRed,color:C.red,data:loadRed},{name:hostGreen,color:C.green,data:loadGreen},{name:hostAvg,color:C.avg,data:loadAvg},{name:hostPurple,color:C.purple,data:loadPurple,highlight:true}],
  hoverLabels:[{s:0,text:"6.06",dy:0},{s:3,text:"0.838",dy:-19}]});
lineChart({key:"mem",canvasLeft:2676,left:2742,right:3791,max:14,step:2,suffix:"%",hiLabel:"5.24",
  series:[{name:hostGreen,color:C.green,data:memGreen},{name:hostRed,color:C.red,data:memRed},{name:hostBlue,color:C.blue,data:memBlue},{name:hostYellow,color:C.yellow,data:memYellow},{name:hostAvg,color:C.avg,data:memAvg},{name:hostPurple,color:C.purple,data:memPurple,highlight:true}],
  hoverLabels:[{s:0,text:"12.5",dy:21},{s:3,text:"5.72",dy:-19}]});
</script></body></html>
